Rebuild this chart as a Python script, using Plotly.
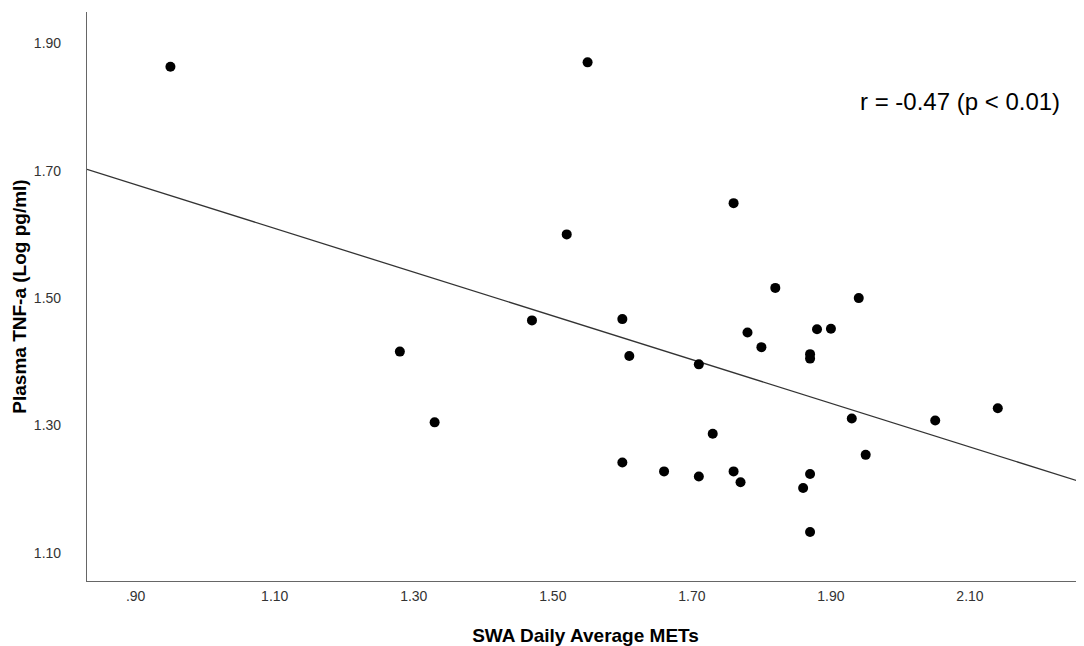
import numpy as np
import plotly.graph_objects as go

# Data
mets = [0.95, 1.55, 1.76, 1.52, 1.47, 1.60, 1.82, 1.94, 1.28, 1.33,
        1.61, 1.71, 1.73, 1.60, 1.66, 1.71, 1.76, 1.77, 1.78, 1.88,
        1.90, 1.80, 1.87, 1.87, 1.93, 2.05, 2.14, 1.95, 1.87, 1.86, 1.87]
tnf = [1.863, 1.870, 1.649, 1.600, 1.465, 1.467, 1.516, 1.500, 1.416, 1.305,
       1.409, 1.396, 1.287, 1.242, 1.228, 1.220, 1.228, 1.211, 1.446, 1.451,
       1.452, 1.423, 1.412, 1.405, 1.311, 1.308, 1.327, 1.254, 1.224, 1.202, 1.133]

x_tickvals = [0.9, 1.1, 1.3, 1.5, 1.7, 1.9, 2.1]
x_ticktext = [".90", "1.10", "1.30", "1.50", "1.70", "1.90", "2.10"]
y_tickvals = [1.1, 1.3, 1.5, 1.7, 1.9]
y_ticktext = ["1.10", "1.30", "1.50", "1.70", "1.90"]

x_range = [0.830, 2.264]
y_range = [1.056, 1.949]

annotation_text = "r = -0.47 (p < 0.01)"

# Linear fit through the points
slope, intercept = np.polyfit(mets, tnf, 1)
fit_x = np.array(x_range)
fit_y = slope * fit_x + intercept

fig = go.Figure()
fig.add_trace(go.Scatter(
    x=fit_x, y=fit_y, mode="lines",
    line=dict(color="#333333", width=1.3),
    hoverinfo="skip", showlegend=False,
))
fig.add_trace(go.Scatter(
    x=mets, y=tnf, mode="markers",
    marker=dict(color="black", size=10, line=dict(width=0)),
    showlegend=False,
))

tick_font = dict(family="Liberation Sans, Arial, sans-serif", size=14, color="#333333")
title_font = dict(family="Liberation Sans, Arial, sans-serif", size=19, color="black")

W, H = 1076, 638
ML, MT, MR, MB = 79, 4, 0, 65

fig.update_layout(
    width=W, height=H,
    margin=dict(l=ML, r=MR, t=MT, b=MB, autoexpand=False),
    paper_bgcolor="white", plot_bgcolor="white",
    xaxis=dict(
        range=x_range, tickvals=x_tickvals, ticktext=x_ticktext,
        showgrid=False, zeroline=False, automargin=False,
        showline=True, linecolor="#666666", linewidth=1.2,
        ticks="", tickfont=tick_font, ticklabelstandoff=2,
        title=dict(text="<b>SWA Daily Average METs</b>", font=title_font, standoff=28),
    ),
    yaxis=dict(
        range=y_range, tickvals=y_tickvals, ticktext=y_ticktext,
        showgrid=False, zeroline=False, automargin=False,
        showline=True, linecolor="#666666", linewidth=1.2,
        ticks="", tickfont=tick_font, ticklabelstandoff=22,
        title=dict(text="<b>Plasma TNF-a (Log pg/ml)</b>", font=title_font, standoff=2),
    ),
)

plot_w = W - ML - MR
plot_h = H - MT - MB
fig.add_annotation(
    x=(1054 - ML) / plot_w, y=(H - MB - 94) / plot_h,
    xref="paper", yref="paper", xanchor="right", yanchor="middle",
    text=annotation_text, showarrow=False,
    font=dict(family="Liberation Sans, Arial, sans-serif", size=24, color="black"),
)

fig.write_html("out.html")
